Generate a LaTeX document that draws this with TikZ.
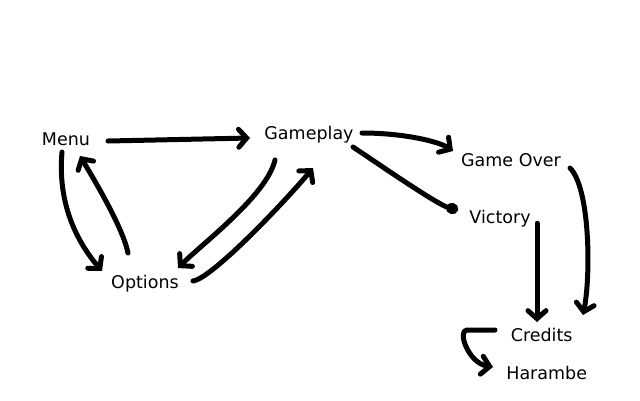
\documentclass[tikz,border=0pt]{standalone}
\usepackage{fontspec}
\setmainfont{DejaVu Sans}
\usepackage{tikz}
\usetikzlibrary{arrows.meta,calc}

\tikzset{
  screen/.style={inner sep=0pt, anchor=base, font=\fontsize{17.5}{21}\selectfont},
  link/.style={line width=5pt, line cap=round, line join=round,
    -{Straight Barb[length=8pt,width=18pt,line cap=round]}},
  blob/.style={line width=5pt, line cap=round, line join=round,
    -{Circle[length=12pt,width=11pt]}}
}

\begin{document}
\begin{tikzpicture}[x=1pt,y=-1pt]
          \useasboundingbox (0,0) rectangle (640,400);

          \node[screen] (menu) at (66,145) {Menu};
          \node[screen] (gameplay) at (309,139.5) {Gameplay};
          \node[screen] (options) at (145,288) {Options};
          \node[screen] (gameover) at (511,166.7) {Game Over};
          \node[screen] (victory) at (500,223.3) {Victory};
          \node[screen] (credits) at (541.7,341) {Credits};
          \node[screen] (harambe) at (546.7,379.3) {Harambe};

          % menu and options
          \draw[link] ([shift={(42,-4)}]menu.base) -- ([shift={(-59,-1.5)}]gameplay.base);
          \draw[link] ([shift={(-4,7)}]menu.base)
            .. controls +(-4,45) and +(-30,-35) .. ([shift={(-43,-17)}]options.base);
          \draw[link] ([shift={(-17,-35)}]options.base)
            .. controls +(-5,-25) and +(15,25) .. ([shift={(14,11)}]menu.base);

          % gameplay and options
          \draw[link] ([shift={(-34,20.5)}]gameplay.base)
            .. controls +(-8,35) and +(25,-25) .. ([shift={(33,-20)}]options.base);
          \draw[link] ([shift={(48,-7)}]options.base)
            .. controls +(20,-3) and +(-25,30) .. ([shift={(4,28.5)}]gameplay.base);

          % end of the game
          \draw[link] ([shift={(53,-6.5)}]gameplay.base)
            .. controls +(40,0) and +(-15,-10) .. ([shift={(-58,-15.7)}]gameover.base);
          \draw[blob] ([shift={(44,7.5)}]gameplay.base)
            .. controls +(30,20) and +(-20,-5) .. ([shift={(-42,-13.3)}]victory.base);
          \draw[link] ([shift={(37,0)}]victory.base) -- ([shift={(-4.7,-19)}]credits.base);
          \draw[link] ([shift={(59,1.3)}]gameover.base)
            .. controls +(20,20) and +(8,-40) .. ([shift={(41.3,-26)}]credits.base);
          \draw[link] ([shift={(-46.7,-11)}]credits.base) -- ++(-28,0)
            .. controls +(-10,0) and +(-25,-4) .. ([shift={(-53.7,-12.3)}]harambe.base);
        \end{tikzpicture}
\end{document}
